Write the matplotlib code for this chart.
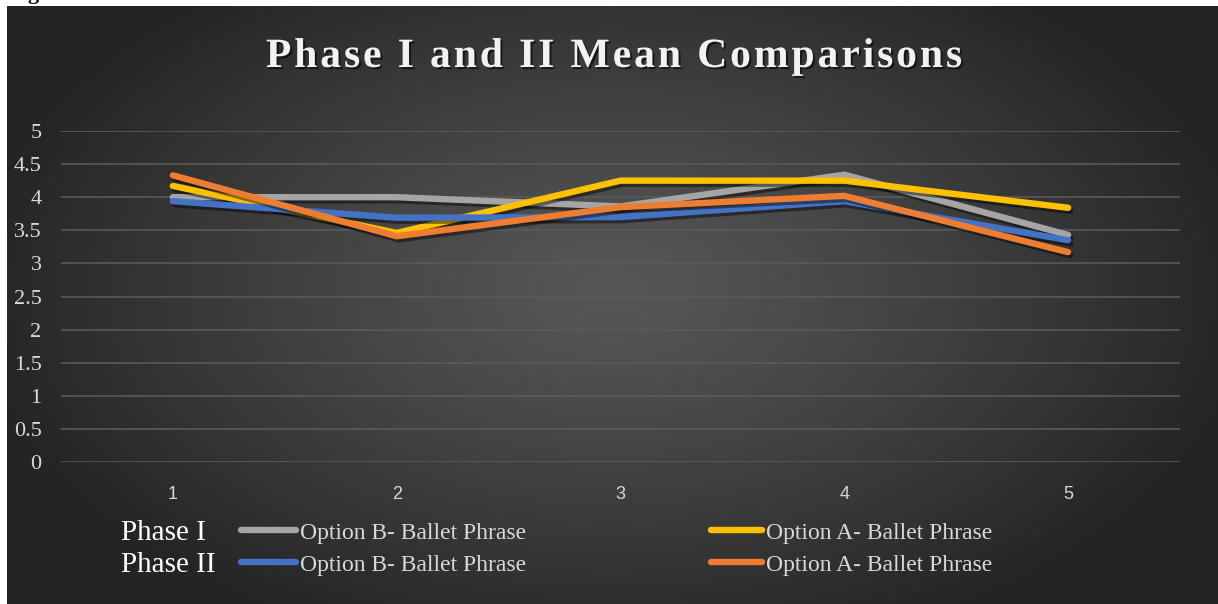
import numpy as np
import matplotlib
matplotlib.use("Agg")
import matplotlib.pyplot as plt
import matplotlib.patheffects as pe
from matplotlib.lines import Line2D
from matplotlib.font_manager import FontProperties

# ---------------- data ----------------
categories = [1, 2, 3, 4, 5]
phase1_optB = [4.00, 4.00, 3.86, 4.34, 3.43]
phase1_optA = [4.17, 3.46, 4.25, 4.25, 3.84]
phase2_optB = [3.94, 3.69, 3.70, 3.94, 3.35]
phase2_optA = [4.33, 3.41, 3.85, 4.02, 3.17]
y_ticks = [0, 0.5, 1, 1.5, 2, 2.5, 3, 3.5, 4, 4.5, 5]
y_tick_labels = ["0", "0.5", "1", "1.5", "2", "2.5", "3", "3.5", "4", "4.5", "5"]
title = "Phase I and II Mean Comparisons"
series_label_B = "Option B- Ballet Phrase"
series_label_A = "Option A- Ballet Phrase"
row_labels = ["Phase I", "Phase II"]

c_gray = "#a5a5a5"
c_yellow = "#ffc000"
c_blue = "#4472c4"
c_orange = "#ed7d31"

W, H = 1218, 604
fig = plt.figure(figsize=(W / 100, H / 100), dpi=100, facecolor="white")

# ---------------- background gradient ----------------
x0, ytop = 7, 6
bg = fig.add_axes([x0 / W, 0, 1 - x0 / W, (H - ytop) / H], zorder=0)
gw, gh = 600, 300
xx, yy = np.meshgrid(np.linspace(-1, 1, gw), np.linspace(-1, 1, gh))
cx, cy = 0.0, -0.05
r = np.sqrt(((xx - cx) / 1.05) ** 2 + ((yy - cy) / 1.25) ** 2)
c_center, c_edge = 0.34, 0.145
val = c_center + (c_edge - c_center) * np.clip(r, 0, 1) ** 1.2
img = np.dstack([val, val, val])
bg.imshow(img, aspect="auto", extent=[0, 1, 0, 1], interpolation="bilinear")
bg.set_axis_off()

# top-left cropped caption fragment (as in the reference)
fig.text(9 / W, 1.0 + 0.5 / H, "Fig", fontsize=16, family="Liberation Serif",
         fontweight="bold", color="black", va="baseline", ha="left", zorder=1)

# ---------------- main axes ----------------
left, right = 61, 1180
ybot, ytopax = 462, 131
ax = fig.add_axes([left / W, (H - ybot) / H, (right - left) / W, (ybot - ytopax) / H], zorder=2)
ax.patch.set_alpha(0)
ax.set_xlim(0.5, 5.5)
ax.set_ylim(0, 5)
for s in ax.spines.values():
    s.set_visible(False)
ax.set_yticks(y_ticks)
ax.set_yticklabels(y_tick_labels, family="Liberation Serif", fontsize=16, color="#d9d9d9")
ax.set_xticks(categories)
ax.set_xticklabels([str(c) for c in categories], family="Liberation Sans", fontsize=13, color="#d9d9d9")
ax.tick_params(axis="both", length=0)
ax.tick_params(axis="y", pad=14)
ax.tick_params(axis="x", pad=17)
ax.grid(axis="y", color="#5a5a5a", linewidth=1.3, alpha=0.9)
ax.set_axisbelow(True)

lw = 4.6
shadow = [pe.SimpleLineShadow(offset=(1.5, -2.2), shadow_color="black", alpha=0.45), pe.Normal()]
for vals, col in [(phase1_optB, c_gray), (phase1_optA, c_yellow), (phase2_optB, c_blue), (phase2_optA, c_orange)]:
    ax.plot(categories, vals, color=col, linewidth=lw, solid_capstyle="round",
            solid_joinstyle="miter", path_effects=shadow, zorder=3)

# ---------------- title with letter spacing ----------------
renderer = fig.canvas.get_renderer()
tprop = FontProperties(family="Liberation Serif", weight="bold", size=30)
spacing = 2.9  # px between characters
widths = []
for ch in title:
    if ch == " ":
        w1, _, _ = renderer.get_text_width_height_descent("a a", tprop, ismath=False)
        w2, _, _ = renderer.get_text_width_height_descent("aa", tprop, ismath=False)
        widths.append(w1 - w2)
    else:
        w, _, _ = renderer.get_text_width_height_descent(ch, tprop, ismath=False)
        widths.append(w)
total = sum(widths) + spacing * (len(title) - 1)
xc = 614
xs = xc - total / 2
ty = H - 67
tshadow = [pe.SimplePatchShadow(offset=(1.5, -1.5), shadow_rgbFace="black", alpha=0.55), pe.Normal()]
for ch, w in zip(title, widths):
    if ch != " ":
        fig.text(xs / W, ty / H, ch, fontproperties=tprop, color="#f2f2f2",
                 ha="left", va="baseline", path_effects=tshadow, zorder=5)
    xs += w + spacing

# ---------------- custom legend ----------------
rows_y = [530, 562]
row_series = [(c_gray, c_yellow), (c_blue, c_orange)]
for ry, lab, (cb, ca) in zip(rows_y, row_labels, row_series):
    fy = (H - ry) / H
    ty_txt = (H - ry - 3) / H
    fig.text(121 / W, ty_txt, lab, family="Liberation Serif", fontsize=21, color="white",
             ha="left", va="center", zorder=5)
    fig.add_artist(Line2D([241 / W, 296 / W], [fy, fy], color=cb, linewidth=lw,
                          solid_capstyle="round", zorder=5))
    fig.text(300 / W, ty_txt, series_label_B, family="Liberation Serif", fontsize=17,
             color="#d9d9d9", ha="left", va="center", zorder=5)
    fig.add_artist(Line2D([711 / W, 762 / W], [fy, fy], color=ca, linewidth=lw,
                          solid_capstyle="round", zorder=5))
    fig.text(766 / W, ty_txt, series_label_A, family="Liberation Serif", fontsize=17,
             color="#d9d9d9", ha="left", va="center", zorder=5)

fig.savefig("out.png", dpi=100, facecolor="white")
